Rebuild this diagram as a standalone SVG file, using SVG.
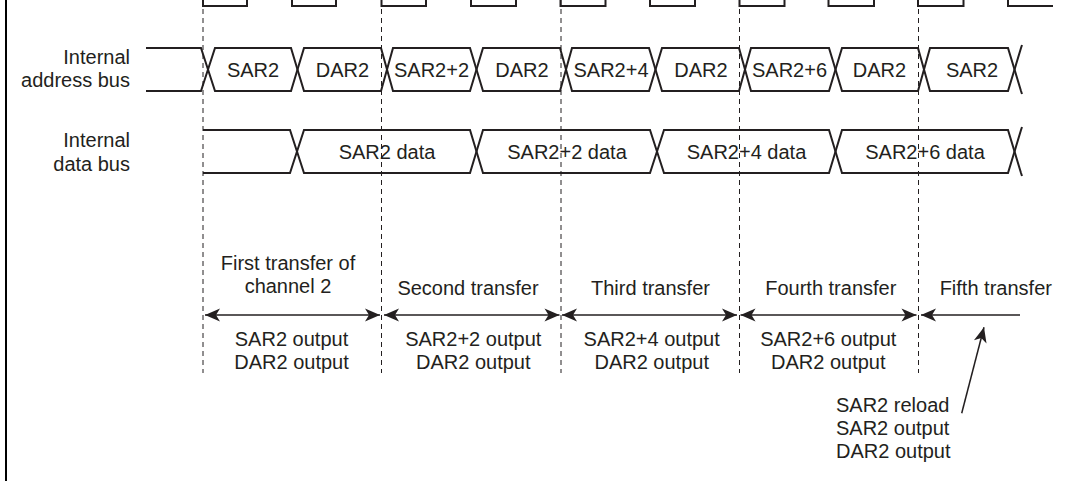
<svg xmlns="http://www.w3.org/2000/svg" width="1066" height="481" viewBox="0 0 1066 481">
<style>
.t{font-family:"Liberation Sans",Arial,sans-serif;font-size:20px;fill:#231f20}
.m{text-anchor:middle}
.e{text-anchor:end}
.w{fill:none;stroke:#231f20;stroke-width:2;stroke-linejoin:miter}
.d{fill:none;stroke:#231f20;stroke-width:1;stroke-dasharray:5,4}
.a{fill:none;stroke:#231f20;stroke-width:1.5}
</style>
<defs>
<marker id="ah" viewBox="-16 -8 17 16" refX="0" refY="0" markerWidth="17" markerHeight="16" markerUnits="userSpaceOnUse" orient="auto-start-reverse">
<path d="M0,0 L-15,-6.5 L-11,0 L-15,6.5 Z" fill="#231f20"/>
</marker>
</defs>
<rect width="1066" height="481" fill="#ffffff"/>
<line x1="6" y1="0" x2="6" y2="481" stroke="#000" stroke-width="2"/>
<g id="guides">
<line class="d" x1="203" y1="0" x2="203" y2="373"/>
<line class="d" x1="381.5" y1="0" x2="381.5" y2="373"/>
<line class="d" x1="561" y1="0" x2="561" y2="373"/>
<line class="d" x1="739.5" y1="0" x2="739.5" y2="373"/>
<line class="d" x1="918.5" y1="0" x2="918.5" y2="373"/>
</g>
<g id="clock">
<path class="w" d="M203,0 V6 H247 V0 M292,0 V6 H336 V0 M381.5,0 V6 H426 V0 M471,0 V6 H516 V0 M560.5,0 V6 H605.5 V0 M650,0 V6 H695 V0 M739.5,0 V6 H784.5 V0 M828.5,0 V6 H874 V0 M918,0 V6 H963.5 V0 M1008,0 V6 H1053"/>
</g>
<g id="address-bus">
<text class="t e" x="130" y="64">Internal</text>
<text class="t e" x="130" y="87">address bus</text>
<path class="w" d="M146,48 L201,48 L215,91 L291,91 L304,48 L381,48 L393,91 L470,91 L483,48 L560,48 L572,91 L649,91 L662,48 L739,48 L751,91 L829,91 L842,48 L918,48 L930,91 L1008,91 L1021,48 L1022,45"/>
<path class="w" d="M146,91 L201,91 L215,48 L291,48 L304,91 L381,91 L393,48 L470,48 L483,91 L560,91 L572,48 L649,48 L662,91 L739,91 L751,48 L829,48 L842,91 L918,91 L930,48 L1008,48 L1021,91 L1022,94"/>
<text class="t m" x="253" y="77">SAR2</text>
<text class="t m" x="342.5" y="77">DAR2</text>
<text class="t m" x="431.5" y="77">SAR2+2</text>
<text class="t m" x="522" y="77">DAR2</text>
<text class="t m" x="611" y="77">SAR2+4</text>
<text class="t m" x="701" y="77">DAR2</text>
<text class="t m" x="789.5" y="77">SAR2+6</text>
<text class="t m" x="879.5" y="77">DAR2</text>
<text class="t m" x="972" y="77">SAR2</text>
</g>
<g id="data-bus">
<text class="t e" x="130" y="147">Internal</text>
<text class="t e" x="130" y="170.5">data bus</text>
<path class="w" d="M203,130 L290,130 L304,173 L470,173 L483,130 L650,130 L664,173 L829,173 L842,130 L1008,130 L1021,173 L1022,176"/>
<path class="w" d="M203,173 L290,173 L304,130 L470,130 L483,173 L650,173 L664,130 L829,130 L842,173 L1008,173 L1021,130 L1022,127"/>
<text class="t m" x="387" y="158.5">SAR2 data</text>
<text class="t m" x="567" y="158.5">SAR2+2 data</text>
<text class="t m" x="746.5" y="158.5">SAR2+4 data</text>
<text class="t m" x="925" y="158.5">SAR2+6 data</text>
</g>
<g id="transfer-1">
<text class="t m" x="288" y="269.5">First transfer of</text>
<text class="t m" x="288" y="293">channel 2</text>
<text class="t m" x="291.5" y="346">SAR2 output</text>
<text class="t m" x="291.5" y="369">DAR2 output</text>
</g>
<g id="transfer-2">
<text class="t m" x="468" y="294.5">Second transfer</text>
<text class="t m" x="473.3" y="346">SAR2+2 output</text>
<text class="t m" x="473.3" y="369">DAR2 output</text>
</g>
<g id="transfer-3">
<text class="t m" x="650.5" y="294.5">Third transfer</text>
<text class="t m" x="651.7" y="346">SAR2+4 output</text>
<text class="t m" x="651.7" y="369">DAR2 output</text>
</g>
<g id="transfer-4">
<text class="t m" x="830.8" y="294.5">Fourth transfer</text>
<text class="t m" x="828.3" y="346">SAR2+6 output</text>
<text class="t m" x="828.3" y="369">DAR2 output</text>
</g>
<g id="transfer-5">
<text class="t m" x="995.8" y="294.5">Fifth transfer</text>
</g>
<g id="reload-note">
<text class="t" x="836" y="411.7">SAR2 reload</text>
<text class="t" x="836" y="435">SAR2 output</text>
<text class="t" x="836" y="458.3">DAR2 output</text>
</g>
<g id="connectors">
<line class="a" x1="205" y1="315" x2="380" y2="315" marker-start="url(#ah)" marker-end="url(#ah)"/>
<line class="a" x1="384" y1="315" x2="559.5" y2="315" marker-start="url(#ah)" marker-end="url(#ah)"/>
<line class="a" x1="562" y1="315" x2="737" y2="315" marker-start="url(#ah)" marker-end="url(#ah)"/>
<line class="a" x1="740.5" y1="315" x2="916.5" y2="315" marker-start="url(#ah)" marker-end="url(#ah)"/>
<line class="a" x1="1020" y1="315" x2="921" y2="315" marker-end="url(#ah)"/>
<line class="a" x1="961.7" y1="413.3" x2="984" y2="327.3" marker-end="url(#ah)"/>
</g>
</svg>
